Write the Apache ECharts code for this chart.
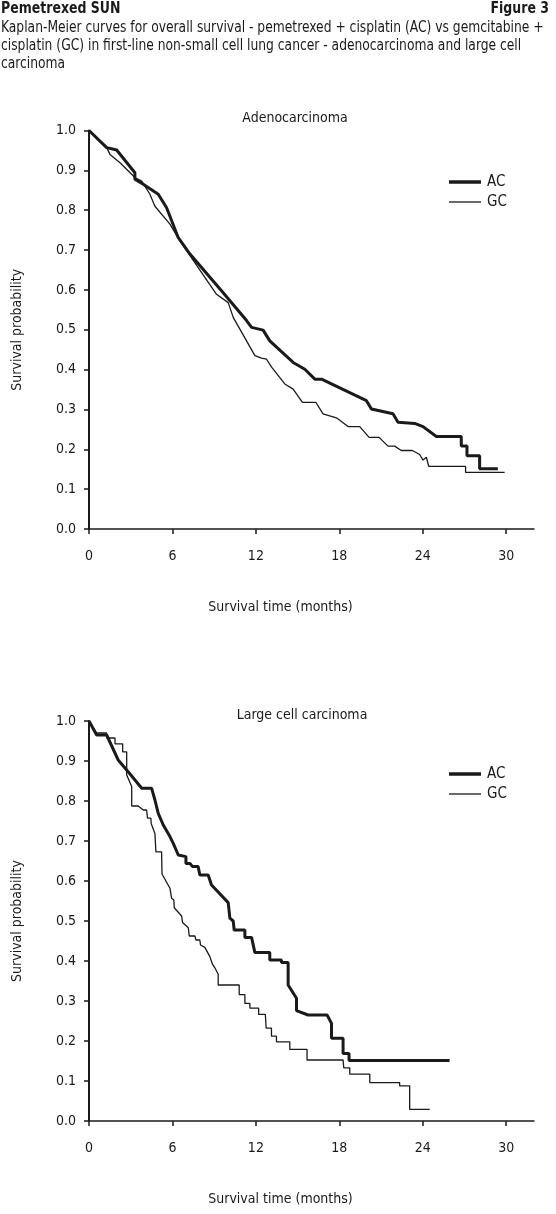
<!DOCTYPE html>
<html>
<head>
<meta charset="utf-8">
<script src="https://cdn.jsdelivr.net/npm/echarts@6/dist/echarts.min.js"></script>
<style>
html,body{margin:0;padding:0;background:#fff;}
#chart{width:556px;height:1214px;}
</style>
</head>
<body>
<div id="chart"></div>
<script>
// ---- Data (months, survival probability) ----
const seriesNames = ['AC', 'GC'];
const xTicks = [0, 6, 12, 18, 24, 30];
const panelTitles = ['Adenocarcinoma', 'Large cell carcinoma'];

const adenoAC = [[0,1],[1.27,0.957],[1.99,0.951],[3.30,0.894],[3.30,0.878],[3.90,0.865],[4.98,0.84],[5.58,0.806],[6.42,0.731],[7.26,0.69],[9.65,0.593],[11.33,0.523],[11.69,0.506],[12.52,0.499],[13.0,0.472],[14.68,0.418],[15.52,0.401],[16.24,0.376],[16.72,0.376],[19.95,0.322],[20.31,0.301],[21.86,0.289],[22.22,0.268],[23.42,0.265],[24.02,0.257],[24.98,0.232],[26.77,0.232],[26.77,0.208],[27.18,0.208],[27.18,0.184],[28.09,0.184],[28.09,0.151],[29.40,0.151]];

const adenoGC = [[0,1],[1.27,0.957],[1.51,0.94],[2.23,0.919],[3.30,0.882],[3.79,0.873],[4.38,0.84],[4.74,0.81],[5.82,0.765],[6.54,0.723],[9.17,0.589],[10.01,0.568],[10.37,0.531],[11.93,0.435],[12.41,0.429],[12.77,0.426],[13.13,0.406],[14.08,0.364],[14.68,0.351],[15.35,0.318],[16.31,0.318],[16.83,0.289],[17.79,0.279],[18.63,0.257],[19.47,0.257],[20.14,0.230],[20.86,0.230],[21.50,0.208],[21.98,0.208],[22.46,0.197],[23.25,0.197],[23.78,0.187],[24.02,0.173],[24.26,0.18],[24.43,0.157],[27.08,0.157],[27.08,0.142],[29.89,0.142]];

const largeAC = [[0,1],[0.55,0.965],[1.27,0.965],[2.10,0.9025],[2.95,0.8675],[3.79,0.832],[4.50,0.832],[4.74,0.8025],[4.98,0.769],[5.34,0.74],[5.82,0.711],[6.06,0.694],[6.42,0.665],[6.97,0.661],[6.97,0.644],[7.26,0.644],[7.45,0.636],[7.85,0.636],[7.97,0.615],[8.57,0.615],[8.81,0.59],[10.01,0.546],[10.13,0.507],[10.37,0.5],[10.44,0.4775],[11.21,0.4775],[11.21,0.459],[11.69,0.459],[11.93,0.421],[13.0,0.421],[13.0,0.4025],[13.84,0.4025],[13.84,0.396],[14.32,0.396],[14.32,0.34],[14.92,0.307],[14.92,0.276],[15.75,0.265],[17.12,0.265],[17.44,0.244],[17.44,0.207],[18.27,0.207],[18.27,0.169],[18.70,0.169],[18.70,0.151],[25.93,0.151]];

const largeGC = [[0,1],[0.55,0.97],[1.27,0.97],[1.27,0.9575],[1.87,0.9575],[1.87,0.943],[2.42,0.943],[2.42,0.923],[2.71,0.923],[2.71,0.865],[3.07,0.836],[3.07,0.7875],[3.54,0.7875],[3.90,0.7775],[4.14,0.7775],[4.21,0.757],[4.45,0.757],[4.47,0.744],[4.74,0.719],[4.81,0.673],[5.22,0.673],[5.25,0.6175],[5.82,0.582],[5.94,0.557],[6.10,0.5525],[6.13,0.533],[6.66,0.5125],[6.73,0.496],[7.14,0.483],[7.21,0.4625],[7.61,0.4625],[7.69,0.4525],[7.97,0.4525],[8.02,0.44],[8.33,0.434],[8.69,0.411],[8.88,0.392],[9.05,0.383],[9.29,0.367],[9.29,0.34],[10.8,0.34],[10.8,0.316],[11.21,0.316],[11.21,0.294],[11.57,0.294],[11.57,0.282],[12.2,0.282],[12.2,0.2665],[12.68,0.2665],[12.74,0.232],[13.12,0.232],[13.12,0.212],[13.48,0.212],[13.48,0.198],[14.44,0.198],[14.44,0.179],[15.68,0.179],[15.68,0.1525],[18.27,0.1525],[18.32,0.133],[18.75,0.133],[18.75,0.117],[20.19,0.117],[20.19,0.096],[22.34,0.096],[22.34,0.088],[23.06,0.088],[23.06,0.029],[24.5,0.029]];

// ---- Styling ----
const FONT = "'DejaVu Sans Condensed', 'Liberation Sans', sans-serif";
const INK = '#1a1a1a';
const W_AC = 3, W_GC = 1.3;

const chart = echarts.init(document.getElementById('chart'), null, {renderer: 'canvas'});

const grids = [
  {left: 89, top: 130.5, width: 445, height: 398.5},
  {left: 89, top: 721, width: 445, height: 400}
];

function xAxisFor(i) {
  return {
    type: 'value', gridIndex: i, min: 0, max: 32,
    name: 'Survival time (months)', nameLocation: 'middle', nameGap: 71,
    nameTextStyle: {fontFamily: FONT, fontSize: 14, color: INK, padding: [0, 62, 0, 0]},
    axisLine: {show: true, onZero: false, lineStyle: {color: INK, width: 1.5}},
    axisTick: {show: true, length: 5, inside: false, customValues: xTicks, lineStyle: {color: INK, width: 1.5}},
    axisLabel: {margin: 20, fontFamily: FONT, fontSize: 14, color: INK, customValues: xTicks},
    splitLine: {show: false}
  };
}
function yAxisFor(i) {
  return {
    type: 'value', gridIndex: i, min: 0, max: 1, interval: 0.1,
    name: 'Survival probability', nameLocation: 'middle', nameGap: 65,
    nameTextStyle: {fontFamily: FONT, fontSize: 14, color: INK},
    axisLine: {show: true, lineStyle: {color: INK, width: 2}},
    axisTick: {show: true, length: 5, lineStyle: {color: INK, width: 1.5}},
    axisLabel: {margin: 13, fontFamily: FONT, fontSize: 14, color: INK, formatter: v => v.toFixed(1)},
    splitLine: {show: false}
  };
}

function lineSeries(name, data, gi, width) {
  return {
    name: name, type: 'line', xAxisIndex: gi, yAxisIndex: gi, data: data,
    symbol: 'none', showSymbol: false, smooth: false, animation: false,
    lineStyle: {color: INK, width: width}, itemStyle: {color: INK}
  };
}

const option = {
  backgroundColor: '#fff',
  animation: false,
  title: [
    {text: panelTitles[0], left: 290, top: 106, textAlign: 'center',
     textStyle: {fontFamily: FONT, fontSize: 14, fontWeight: 'normal', color: INK}},
    {text: panelTitles[1], left: 297, top: 703, textAlign: 'center',
     textStyle: {fontFamily: FONT, fontSize: 14, fontWeight: 'normal', color: INK}}
  ],
  grid: grids,
  xAxis: [xAxisFor(0), xAxisFor(1)],
  yAxis: [yAxisFor(0), yAxisFor(1)],
  series: [
    lineSeries('GC', adenoGC, 0, W_GC),
    lineSeries('AC', adenoAC, 0, W_AC),
    lineSeries('GC', largeGC, 1, W_GC),
    lineSeries('AC', largeAC, 1, W_AC)
  ],
  graphic: [
    {type: 'text', x: 1, y: 1, scaleX: 0.87, style: {text: 'Pemetrexed SUN', font: "bold 16px " + FONT, fill: INK}},
    {type: 'text', x: 549, y: 1, scaleX: 0.87, style: {text: 'Figure 3', align: 'right', font: "bold 16px " + FONT, fill: INK}},
    {type: 'text', x: 1, y: 19, scaleX: 0.855, style: {text: 'Kaplan-Meier curves for overall survival - pemetrexed + cisplatin (AC) vs gemcitabine +\ncisplatin (GC) in first-line non-small cell lung cancer - adenocarcinoma and large cell\ncarcinoma', font: "16px " + FONT, fill: INK, lineHeight: 18}},
    // legend keys (line samples) for each panel
    {type: 'line', shape: {x1: 449, y1: 182, x2: 481, y2: 182}, style: {stroke: INK, lineWidth: 3.5}},
    {type: 'line', shape: {x1: 449, y1: 202, x2: 481, y2: 202}, style: {stroke: INK, lineWidth: 1.3}},
    {type: 'text', x: 487, y: 182, style: {text: seriesNames[0], font: "15px " + FONT, fill: INK, verticalAlign: 'middle'}},
    {type: 'text', x: 487, y: 202, style: {text: seriesNames[1], font: "15px " + FONT, fill: INK, verticalAlign: 'middle'}},
    {type: 'line', shape: {x1: 449, y1: 774, x2: 481, y2: 774}, style: {stroke: INK, lineWidth: 3.5}},
    {type: 'line', shape: {x1: 449, y1: 794, x2: 481, y2: 794}, style: {stroke: INK, lineWidth: 1.3}},
    {type: 'text', x: 487, y: 774, style: {text: seriesNames[0], font: "15px " + FONT, fill: INK, verticalAlign: 'middle'}},
    {type: 'text', x: 487, y: 794, style: {text: seriesNames[1], font: "15px " + FONT, fill: INK, verticalAlign: 'middle'}}
  ]
};
chart.setOption(option);
</script>
</body>
</html>
